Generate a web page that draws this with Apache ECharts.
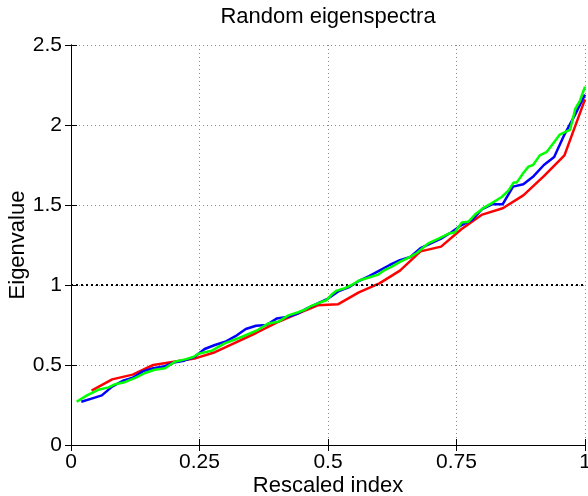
<!DOCTYPE html>
<html>
<head>
<meta charset="utf-8">
<script src="https://cdn.jsdelivr.net/npm/echarts@6/dist/echarts.min.js"></script>
<style>html,body{margin:0;padding:0;background:#fff;overflow:hidden}#c{width:588px;height:496px}</style>
</head>
<body>
<div id="c"></div>
<script>
// x tick values and y tick values
const xTicks = [0, 0.25, 0.5, 0.75, 1];
const yTicks = [0, 0.5, 1, 1.5, 2, 2.5];
const refLevel = 1;

// Red: 25 eigenvalues, plotted at i/25
const redVals = [0.34,0.41,0.44,0.50,0.52,0.54,0.58,0.64,0.70,0.765,0.82,0.873,0.88,0.954,1.01,1.09,1.21,1.24,1.35,1.44,1.48,1.56,1.68,1.81,2.16];
// Blue: 50 eigenvalues, plotted at i/50
const blueVals = [0.27,0.29,0.31,0.365,0.40,0.42,0.46,0.48,0.49,0.515,
  0.527,0.55,0.60,0.625,0.645,0.68,0.725,0.745,0.75,0.79,
  0.80,0.82,0.855,0.885,0.915,0.96,0.985,1.025,1.055,1.09,
  1.125,1.155,1.175,1.23,1.26,1.29,1.33,1.375,1.405,1.475,
  1.505,1.505,1.615,1.63,1.68,1.75,1.80,1.94,2.06,2.19];
// Green: points (rescaled index, eigenvalue)
const greenX = [0.011,0.031,0.053,0.073,0.086,0.102,0.125,0.144,0.163,0.183,0.202,0.222,0.238,0.248,0.274,0.299,0.332,0.364,0.384,0.403,0.423,0.442,0.455,0.468,0.488,0.497,0.507,0.517,0.533,0.546,0.562,0.578,0.598,0.611,0.624,0.640,0.656,0.673,0.695,0.715,0.734,0.747,0.760,0.773,0.786,0.802,0.818,0.838,0.851,0.861,0.867,0.880,0.890,0.899,0.912,0.925,0.938,0.951,0.964,0.971,0.981,0.990,1.0];
const greenVals = [0.27,0.31,0.345,0.36,0.38,0.39,0.42,0.45,0.47,0.48,0.52,0.535,0.55,0.57,0.59,0.635,0.675,0.72,0.76,0.77,0.81,0.83,0.845,0.87,0.895,0.905,0.94,0.965,0.98,1.0,1.03,1.045,1.065,1.095,1.115,1.145,1.17,1.2,1.26,1.29,1.32,1.33,1.39,1.395,1.44,1.48,1.51,1.55,1.59,1.64,1.64,1.70,1.74,1.75,1.81,1.83,1.885,1.94,1.96,1.97,2.10,2.15,2.24];

const FONT = '"Liberation Sans", Arial, Helvetica, sans-serif';
const redData = redVals.map((v, i) => [(i + 1) / redVals.length, v]);
const blueData = blueVals.map((v, i) => [(i + 1) / blueVals.length, v]);
const greenData = greenVals.map((v, i) => [greenX[i], v]);

const chart = echarts.init(document.getElementById('c'), null, {renderer: 'canvas', width: 588, height: 496});
const xMin = xTicks[0], xMax = xTicks[xTicks.length - 1], xInt = xTicks[1] - xTicks[0];
const yMin = yTicks[0], yMax = yTicks[yTicks.length - 1], yInt = yTicks[1] - yTicks[0];
const gridLine = {show: true, lineStyle: {color: '#8a8a8a', type: [1, 3], width: 1}};
const axLine = {show: true, lineStyle: {color: '#000', width: 1}};
const tick = {show: true, inside: true, length: 6, lineStyle: {color: '#000', width: 1}};
const lbl = {color: '#000', fontSize: 21, fontFamily: FONT};

chart.setOption({
  animation: false,
  backgroundColor: '#fff',
  title: {
    text: 'Random eigenspectra', left: 323, top: 1, textAlign: 'center',
    textStyle: {fontSize: 22, fontWeight: 'normal', color: '#000', fontFamily: FONT}
  },
  grid: {left: 71, right: 3, top: 45, bottom: 51, containLabel: false, outerBoundsMode: 'none'},
  xAxis: [{
    type: 'value', min: xMin, max: xMax, interval: xInt, position: 'bottom',
    axisLine: axLine, axisTick: tick, splitLine: gridLine,
    axisLabel: Object.assign({margin: 7}, lbl),
    name: 'Rescaled index', nameLocation: 'middle', nameGap: 30, nameMoveOverlap: false,
    nameTextStyle: {color: '#000', fontSize: 22, fontFamily: FONT}
  }, {
    type: 'value', min: xMin, max: xMax, interval: xInt, position: 'top',
    axisLine: axLine, axisTick: tick, splitLine: {show: false}, axisLabel: {show: false}
  }],
  yAxis: [{
    type: 'value', min: yMin, max: yMax, interval: yInt, position: 'left',
    axisLine: axLine, axisTick: tick, splitLine: gridLine,
    axisLabel: Object.assign({margin: 9}, lbl),
    name: 'Eigenvalue', nameLocation: 'middle', nameGap: 42, nameRotate: 90, nameMoveOverlap: false,
    nameTextStyle: {color: '#000', fontSize: 22, fontFamily: FONT}
  }, {
    type: 'value', min: yMin, max: yMax, interval: yInt, position: 'right',
    axisLine: axLine, axisTick: tick, splitLine: {show: false}, axisLabel: {show: false}
  }],
  series: [
    {type: 'line', name: 'red', data: redData, showSymbol: false, symbol: 'none',
     lineStyle: {color: '#ff0000', width: 2.5}, z: 3,
     markLine: {silent: true, symbol: 'none', label: {show: false},
       lineStyle: {color: '#000', type: [2, 3], width: 2},
       data: [{yAxis: refLevel}]}},
    {type: 'line', name: 'blue', data: blueData, showSymbol: false, symbol: 'none',
     lineStyle: {color: '#0000ff', width: 2.5}, z: 4},
    {type: 'line', name: 'green', data: greenData, showSymbol: false, symbol: 'none',
     lineStyle: {color: '#00ff00', width: 2.5}, z: 5}
  ]
});
</script>
</body>
</html>
